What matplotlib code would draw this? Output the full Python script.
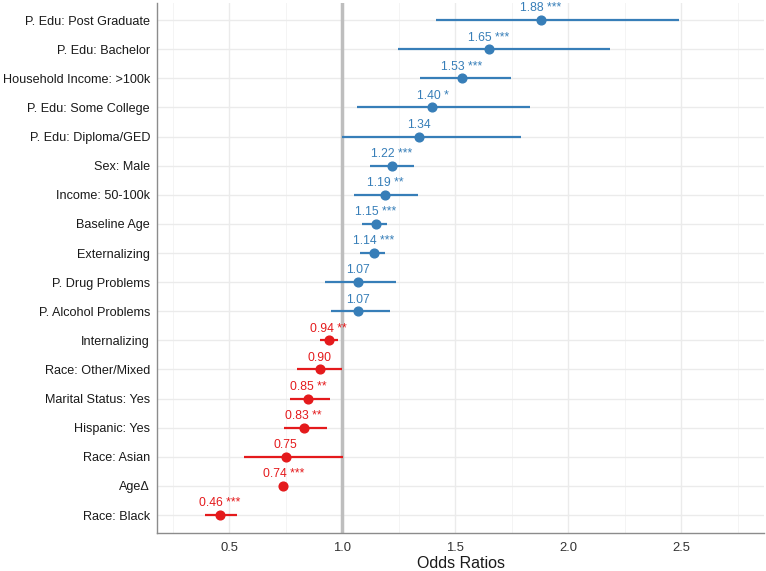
import matplotlib
matplotlib.use("Agg")
import matplotlib.pyplot as plt
from matplotlib.ticker import MultipleLocator

plt.rcParams['font.family'] = ['Liberation Sans', 'DejaVu Sans']

labels = ["P. Edu: Post Graduate", "P. Edu: Bachelor", "Household Income: >100k",
          "P. Edu: Some College", "P. Edu: Diploma/GED", "Sex: Male", "Income: 50-100k",
          "Baseline Age", "Externalizing", "P. Drug Problems", "P. Alcohol Problems",
          "Internalizing", "Race: Other/Mixed", "Marital Status: Yes", "Hispanic: Yes",
          "Race: Asian", "Age\u0394", "Race: Black"]
odds = [1.88, 1.65, 1.53, 1.40, 1.34, 1.22, 1.19, 1.15, 1.14, 1.07, 1.07,
        0.94, 0.90, 0.85, 0.83, 0.75, 0.74, 0.46]
ci_low = [1.416, 1.248, 1.345, 1.066, 1.00, 1.124, 1.053, 1.09, 1.08, 0.925, 0.95,
          0.90, 0.80, 0.77, 0.743, 0.567, 0.72, 0.394]
ci_high = [2.49, 2.186, 1.746, 1.832, 1.79, 1.32, 1.338, 1.20, 1.19, 1.24, 1.21,
           0.98, 1.00, 0.947, 0.932, 1.006, 0.76, 0.535]
stars = ["***", "***", "***", "*", "", "***", "**", "***", "***", "", "",
         "**", "", "**", "**", "", "***", "***"]

blue = "#377EB8"
red = "#E41A1C"

fig = plt.figure(figsize=(7.66, 5.71), dpi=100)
ax = fig.add_axes([0.205, 0.0674, 0.7924, 0.928])

n = len(labels)
ys = [n - 1 - i for i in range(n)]

ax.set_xlim(0.181, 2.867)
ax.set_ylim(-0.6, n - 0.4)
ax.xaxis.set_major_locator(MultipleLocator(0.5))
ax.xaxis.set_minor_locator(MultipleLocator(0.25))
ax.grid(which='major', axis='x', color='#EBEBEB', lw=1.0, zorder=0)
ax.grid(which='minor', axis='x', color='#F2F2F2', lw=0.6, zorder=0)
ax.grid(which='major', axis='y', color='#EBEBEB', lw=1.0, zorder=0)

ax.axvline(1.0, color='#BEBEBE', lw=2.5, zorder=2)

for y, o, lo, hi, s in zip(ys, odds, ci_low, ci_high, stars):
    c = blue if o > 1 else red
    ax.plot([lo, hi], [y, y], color=c, lw=1.6, solid_capstyle='butt', zorder=3)
    ax.plot([o], [y], 'o', color=c, ms=6.3, zorder=4)
    txt = f"{o:.2f}" + (f" {s}" if s else "")
    ax.text(o, y + 0.40, txt, color=c, fontsize=8.7, ha='center', va='center',
            zorder=5, clip_on=False)

ax.set_yticks(ys)
ax.set_yticklabels(labels, fontsize=9.1, color='#1a1a1a')
ax.set_xticks([0.5, 1.0, 1.5, 2.0, 2.5])
ax.set_xticklabels(["0.5", "1.0", "1.5", "2.0", "2.5"], fontsize=9.4, color='#333333')
ax.tick_params(axis='y', which='both', length=0, pad=5)
ax.tick_params(axis='x', which='both', length=0, pad=7)
ax.set_xlabel("Odds Ratios", fontsize=11.5, color='#1a1a1a', labelpad=1)

for sp in ['top', 'right']:
    ax.spines[sp].set_visible(False)
for sp in ['left', 'bottom']:
    ax.spines[sp].set_color('#8c8c8c')
    ax.spines[sp].set_linewidth(1.0)

fig.savefig("out.png", dpi=100)
